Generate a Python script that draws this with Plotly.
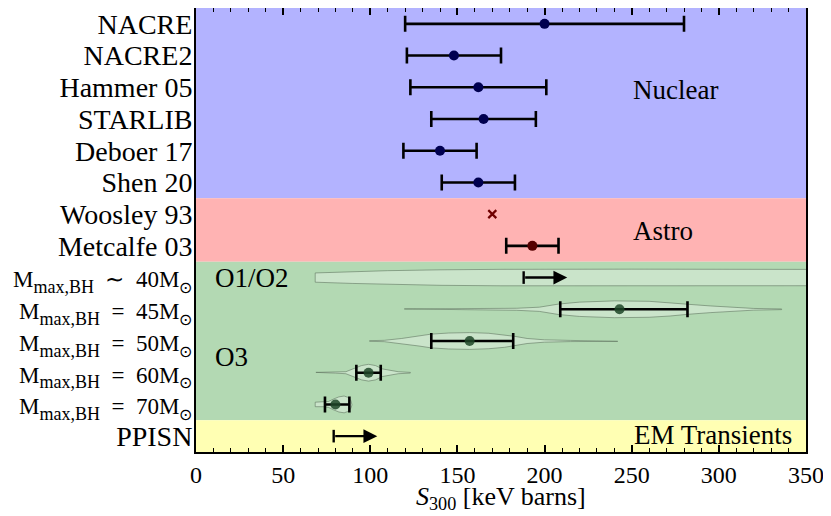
import plotly.graph_objects as go

# ---------------- data ----------------
def mlabel(rel, mass):
    return ("<span style='font-size:23px'>M</span>"
            "<sub><span style='font-size:18px'>max,BH</span></sub>"
            f"<span style='font-size:23px'>\u2002{rel}\u2002{mass}M</span>"
            "<sub><span style='font-size:16px'>⊙</span></sub>")

row_labels = [
    "NACRE", "NACRE2", "Hammer 05", "STARLIB", "Deboer 17", "Shen 20",
    "Woosley 93", "Metcalfe 03",
    mlabel("∼", 40), mlabel("=", 45), mlabel("=", 50), mlabel("=", 60),
    mlabel("=", 70),
    "PPISN",
]

nuclear_rows = [0, 1, 2, 3, 4, 5]
nuclear_med = [200, 148, 162, 165, 140, 162]
nuclear_lo = [120, 121, 123, 135, 119, 141]
nuclear_hi = [280, 175, 201, 195, 161, 183]

woosley_rows = [6]
woosley_val = [170]

metcalfe_rows = [7]
metcalfe_med = [193]
metcalfe_lo = [178]
metcalfe_hi = [208]

o3_rows = [9, 10, 11, 12]
o3_med = [243, 157, 99, 80]
o3_lo = [209, 135, 92, 74]
o3_hi = [282, 182, 106, 88]

limit_rows = [8, 13]
limit_lo = [188, 79]
limit_tip = [213, 104]

# violin profiles (x, relative density)
violin_rows = [8, 9, 10, 11, 12]
violin_x = [
    [68.4, 90, 110, 140, 175, 250, 360],
    [119.5, 160, 184, 197, 208, 220, 240, 260, 272, 282, 295, 308, 320, 336],
    [99.6, 108, 118, 128, 135, 145, 157, 168, 177, 183, 190, 200, 215, 242],
    [68.8, 80, 86, 90, 95, 99, 103, 107, 111, 116, 123],
    [68.4, 73, 76, 79, 82, 85, 87, 88.8, 89.5],
]
violin_d = [
    [0.55, 0.70, 0.82, 0.92, 0.98, 1.0, 0.97],
    [0.04, 0.06, 0.12, 0.25, 0.62, 0.85, 1.0, 0.95, 0.8, 0.6, 0.4, 0.22, 0.1, 0.04],
    [0.04, 0.08, 0.3, 0.6, 0.82, 0.95, 1.0, 0.92, 0.75, 0.55, 0.3, 0.14, 0.07, 0.04],
    [0.04, 0.05, 0.12, 0.45, 0.85, 1.0, 0.85, 0.45, 0.3, 0.12, 0.04],
    [0.27, 0.27, 0.35, 0.65, 0.9, 1.0, 0.85, 0.5, 0.05],
]

# bands
band_lo = [0, 6, 8, 13]
band_hi = [5, 7, 12, 13]
band_colors = ["#b3b3ff", "#ffb3b3", "#b3d9b3", "#ffffb3"]

band_text = ["Nuclear", "Astro", "O1/O2", "O3", "EM Transients"]
band_text_x = [275, 268, 10, 10, 343]
band_text_y = [2.1, 6.53, 8.0, 10.5, 12.97]
band_text_anchor = ["center", "center", "left", "left", "right"]

# ---------------- figure ----------------
FONT = "Liberation Serif"
VIOLIN_HALF = 0.265

fig = go.Figure()

for lo, hi, col in zip(band_lo, band_hi, band_colors):
    fig.add_shape(type="rect", xref="paper", yref="y", x0=0, x1=1,
                  y0=lo - 0.5, y1=hi + 0.5, fillcolor=col, line_width=0,
                  layer="below")

# violins
for r, xs, ds in zip(violin_rows, violin_x, violin_d):
    up = [r - VIOLIN_HALF * d for d in ds]
    dn = [r + VIOLIN_HALF * d for d in ds]
    fig.add_trace(go.Scatter(
        x=xs + xs[::-1] + [xs[0]], y=up + dn[::-1] + [up[0]],
        mode="lines", fill="toself", fillcolor="rgba(255,255,255,0.3)",
        line=dict(color="rgba(90,110,90,0.55)", width=1),
        hoverinfo="skip", showlegend=False))

def err(med, lo, hi):
    return dict(type="data", symmetric=False,
                array=[h - m for m, h in zip(med, hi)],
                arrayminus=[m - l for m, l in zip(med, lo)],
                color="black", thickness=2.6, width=8)

fig.add_trace(go.Scatter(
    x=nuclear_med, y=nuclear_rows, mode="markers",
    marker=dict(color="#000050", size=10),
    error_x=err(nuclear_med, nuclear_lo, nuclear_hi), showlegend=False))

fig.add_trace(go.Scatter(
    x=woosley_val, y=woosley_rows, mode="markers",
    marker=dict(symbol="x-thin", size=8, line=dict(color="#700000", width=2.2)),
    showlegend=False))

fig.add_trace(go.Scatter(
    x=metcalfe_med, y=metcalfe_rows, mode="markers",
    marker=dict(color="#550000", size=10),
    error_x=err(metcalfe_med, metcalfe_lo, metcalfe_hi), showlegend=False))

fig.add_trace(go.Scatter(
    x=o3_med, y=o3_rows, mode="markers",
    marker=dict(color="rgba(30,70,40,0.85)", size=10),
    error_x=err(o3_med, o3_lo, o3_hi), showlegend=False))

# lower limits: start tick + arrow
fig.add_trace(go.Scatter(
    x=limit_lo, y=limit_rows, mode="markers",
    marker=dict(symbol="line-ns", size=9, line=dict(color="black", width=2.4)),
    showlegend=False))
for r, lo, tip in zip(limit_rows, limit_lo, limit_tip):
    fig.add_annotation(x=tip, y=r, ax=lo, ay=r, xref="x", yref="y",
                       axref="x", ayref="y", text="", showarrow=True,
                       arrowhead=2, arrowsize=1.15, arrowwidth=2.4,
                       arrowcolor="black")

for t, tx, ty, anc in zip(band_text, band_text_x, band_text_y, band_text_anchor):
    fig.add_annotation(x=tx, y=ty, xref="x", yref="y", text=t, showarrow=False,
                       xanchor=anc, yanchor="middle",
                       font=dict(family=FONT, size=27, color="black"))

# x-axis title
fig.add_annotation(x=0.5, y=-0.104, xref="paper", yref="paper",
                   text="<i>S</i><sub>300</sub> [keV barns]", showarrow=False,
                   xanchor="center", yanchor="middle",
                   font=dict(family=FONT, size=26, color="black"))

fig.update_layout(
    width=823, height=508,
    margin=dict(l=188, r=25, t=0, b=64, autoexpand=False),
    paper_bgcolor="white", plot_bgcolor="white",
    font=dict(family=FONT, size=26, color="black"),
    showlegend=False,
    xaxis=dict(
        range=[0, 350], tickvals=[0, 50, 100, 150, 200, 250, 300, 350],
        ticks="inside", ticklen=7, tickwidth=1.5, tickcolor="black",
        minor=dict(dtick=10, ticks="inside", ticklen=4, tickwidth=1.3,
                   tickcolor="black", showgrid=False),
        showline=True, linewidth=2, linecolor="black", mirror="ticks",
        showgrid=False, zeroline=False, automargin=False,
        tickfont=dict(family=FONT, size=24),
    ),
    yaxis=dict(
        range=[13.5, -0.5], tickvals=list(range(len(row_labels))),
        ticktext=row_labels, ticks="", showline=True, linewidth=2,
        linecolor="black", mirror=True, showgrid=False, zeroline=False,
        automargin=False, ticklabelstandoff=-4,
        tickfont=dict(family=FONT, size=28),
    ),
)

fig.write_html("out.html")
